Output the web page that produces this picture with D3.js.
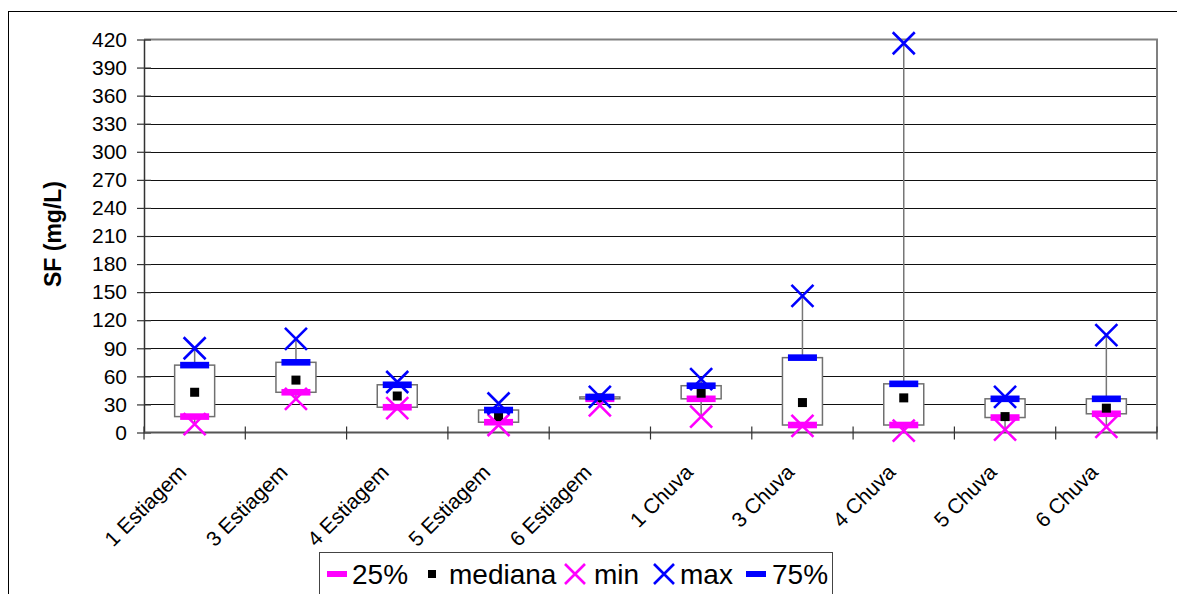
<!DOCTYPE html>
<html>
<head>
<meta charset="utf-8">
<script src="https://cdn.jsdelivr.net/npm/d3@7"></script>
<style>
  html, body { margin: 0; padding: 0; background: #fff; }
  svg { display: block; font-family: "Liberation Sans", Arial, sans-serif; }
</style>
</head>
<body>
<svg id="chart" width="1177" height="594"></svg>
<script>
const categories = ["1 Estiagem","3 Estiagem","4 Estiagem","5 Estiagem","6 Estiagem","1 Chuva","3 Chuva","4 Chuva","5 Chuva","6 Chuva"];
const p25    = [17, 43, 27, 11, 36, 36, 8, 8, 16, 20];
const median = [43, 56, 39, 17, 37, 42, 32, 37, 17, 26];
const minV   = [9, 36, 26, 8, 29, 17, 7, 2, 3, 6];
const maxV   = [90, 100, 54, 31, 38, 57, 146, 416, 38, 104];
const p75    = [72, 75, 51, 24, 38, 50, 80, 52, 36, 36];
const yTicks = [0,30,60,90,120,150,180,210,240,270,300,330,360,390,420];
const yTitle = "SF (mg/L)";
const legendNames = ["25%","mediana","min","max","75%"];

const svg = d3.select("#chart");
const L = 144, R = 1157, T = 39.5, B = 432.5;

const x = d3.scaleBand().domain(categories).range([L, R]);
const y = d3.scaleLinear().domain([0, 420]).range([B, T]);

// outer frame
svg.append("rect").attr("x", 8.5).attr("y", 11.5).attr("width", 1300).attr("height", 800)
  .attr("fill", "none").attr("stroke", "#000").attr("stroke-width", 1);

// gridlines
svg.append("g").selectAll("line").data(yTicks.filter(v => v > 0 && v < 420)).join("line")
  .attr("x1", L).attr("x2", R)
  .attr("y1", d => Math.round(y(d)) + 0.5).attr("y2", d => Math.round(y(d)) + 0.5)
  .attr("stroke", "#111").attr("stroke-width", 1);

// plot border top & right
svg.append("path")
  .attr("d", `M${L},${y(420)}H${R}V${B}`)
  .attr("fill", "none").attr("stroke", "#808080").attr("stroke-width", 2);

// y axis
const yAxis = svg.append("g").attr("transform", `translate(${L},0)`)
  .call(d3.axisLeft(y).tickValues(yTicks).tickSizeInner(6).tickSizeOuter(0).tickPadding(11));
yAxis.select(".domain").attr("stroke", "#333").attr("stroke-width", 1.5);
yAxis.selectAll(".tick line").attr("x1", 7).attr("x2", -7).attr("stroke", "#333").attr("stroke-width", 1.2);
yAxis.selectAll(".tick text").attr("font-size", 21).attr("fill", "#000")
  .attr("font-family", "'Liberation Sans', Arial, sans-serif");

// x axis
svg.append("line").attr("x1", L).attr("x2", R).attr("y1", B).attr("y2", B)
  .attr("stroke", "#555").attr("stroke-width", 2);
const bounds = categories.map(c => x(c)).concat([x.range()[1]]);
svg.append("g").selectAll("line").data(bounds).join("line")
  .attr("x1", d => d).attr("x2", d => d).attr("y1", B - 6).attr("y2", B + 7)
  .attr("stroke", "#333").attr("stroke-width", 1.2);

svg.append("g").selectAll("text").data(categories).join("text")
  .attr("transform", d => `translate(${x(d) + x.bandwidth() / 2 - 7},${B + 41}) rotate(-45)`)
  .attr("text-anchor", "end").attr("font-size", 21).attr("fill", "#000")
  .text(d => d);

// y title
svg.append("text")
  .attr("transform", `translate(61,234) rotate(-90)`)
  .attr("text-anchor", "middle").attr("font-size", 23).attr("font-weight", "bold")
  .text(yTitle);

const data = categories.map((c, i) => ({ c, p25: p25[i], med: median[i], min: minV[i], max: maxV[i], p75: p75[i] }));
const cx = d => x(d.c) + x.bandwidth() / 2;

// whiskers
const g = svg.append("g");
g.selectAll("line.wh").data(data).join("line").attr("class", "wh")
  .attr("x1", cx).attr("x2", cx).attr("y1", d => y(d.max)).attr("y2", d => y(d.min))
  .attr("stroke", "#777").attr("stroke-width", 1.5);
// boxes
g.selectAll("rect.box").data(data).join("rect").attr("class", "box")
  .attr("x", d => cx(d) - 20).attr("width", 40)
  .attr("y", d => y(d.p75)).attr("height", d => Math.max(y(d.p25) - y(d.p75), 1))
  .attr("fill", "#fff").attr("stroke", "#707070").attr("stroke-width", 1.5);

const MAG = "#FF00FF", BLU = "#0000FF";
function xMark(sel, color, s) {
  sel.append("path")
    .attr("d", `M${-s},${-s}L${s},${s}M${-s},${s}L${s},${-s}`)
    .attr("stroke", color).attr("stroke-width", 2.6).attr("fill", "none");
}
// 25%
g.selectAll("rect.q1").data(data).join("rect").attr("class", "q1")
  .attr("x", d => cx(d) - 14.5).attr("width", 29)
  .attr("y", d => y(d.p25) - 3.3).attr("height", 6.6).attr("fill", MAG);
// median
g.selectAll("rect.md").data(data).join("rect").attr("class", "md")
  .attr("x", d => cx(d) - 4.5).attr("width", 9)
  .attr("y", d => y(d.med) - 4.5).attr("height", 9).attr("fill", "#000");
// min
g.selectAll("g.mn").data(data).join("g").attr("class", "mn")
  .attr("transform", d => `translate(${cx(d)},${y(d.min)})`)
  .call(s => xMark(s, MAG, 11));
// max
g.selectAll("g.mx").data(data).join("g").attr("class", "mx")
  .attr("transform", d => `translate(${cx(d)},${y(d.max)})`)
  .call(s => xMark(s, BLU, 11));
// 75%
g.selectAll("rect.q3").data(data).join("rect").attr("class", "q3")
  .attr("x", d => cx(d) - 14.5).attr("width", 29)
  .attr("y", d => y(d.p75) - 3.3).attr("height", 6.6).attr("fill", BLU);

// legend
const lg = svg.append("g");
lg.append("rect").attr("x", 319.5).attr("y", 552.5).attr("width", 513).attr("height", 60)
  .attr("fill", "#fff").attr("stroke", "#444").attr("stroke-width", 1);
const ly = 574, lfs = 28;
const symX = [337, 432, 575, 664, 756];
const txtX = [352, 449, 594, 680, 772];
const kinds = ["barM", "sq", "xM", "xB", "barB"];
legendNames.forEach((n, i) => {
  const k = kinds[i];
  const sg = lg.append("g").attr("transform", `translate(${symX[i]},${ly})`);
  if (k === "barM" || k === "barB") {
    sg.append("rect").attr("x", -10).attr("y", -3).attr("width", 20).attr("height", 6)
      .attr("fill", k === "barM" ? MAG : BLU);
  } else if (k === "sq") {
    sg.append("rect").attr("x", -4).attr("y", -4).attr("width", 8).attr("height", 8).attr("fill", "#000");
  } else {
    xMark(sg, k === "xM" ? MAG : BLU, 10);
  }
  lg.append("text").attr("x", txtX[i]).attr("y", ly + 10).attr("font-size", lfs).attr("fill", "#000").text(n);
});
</script>
</body>
</html>
